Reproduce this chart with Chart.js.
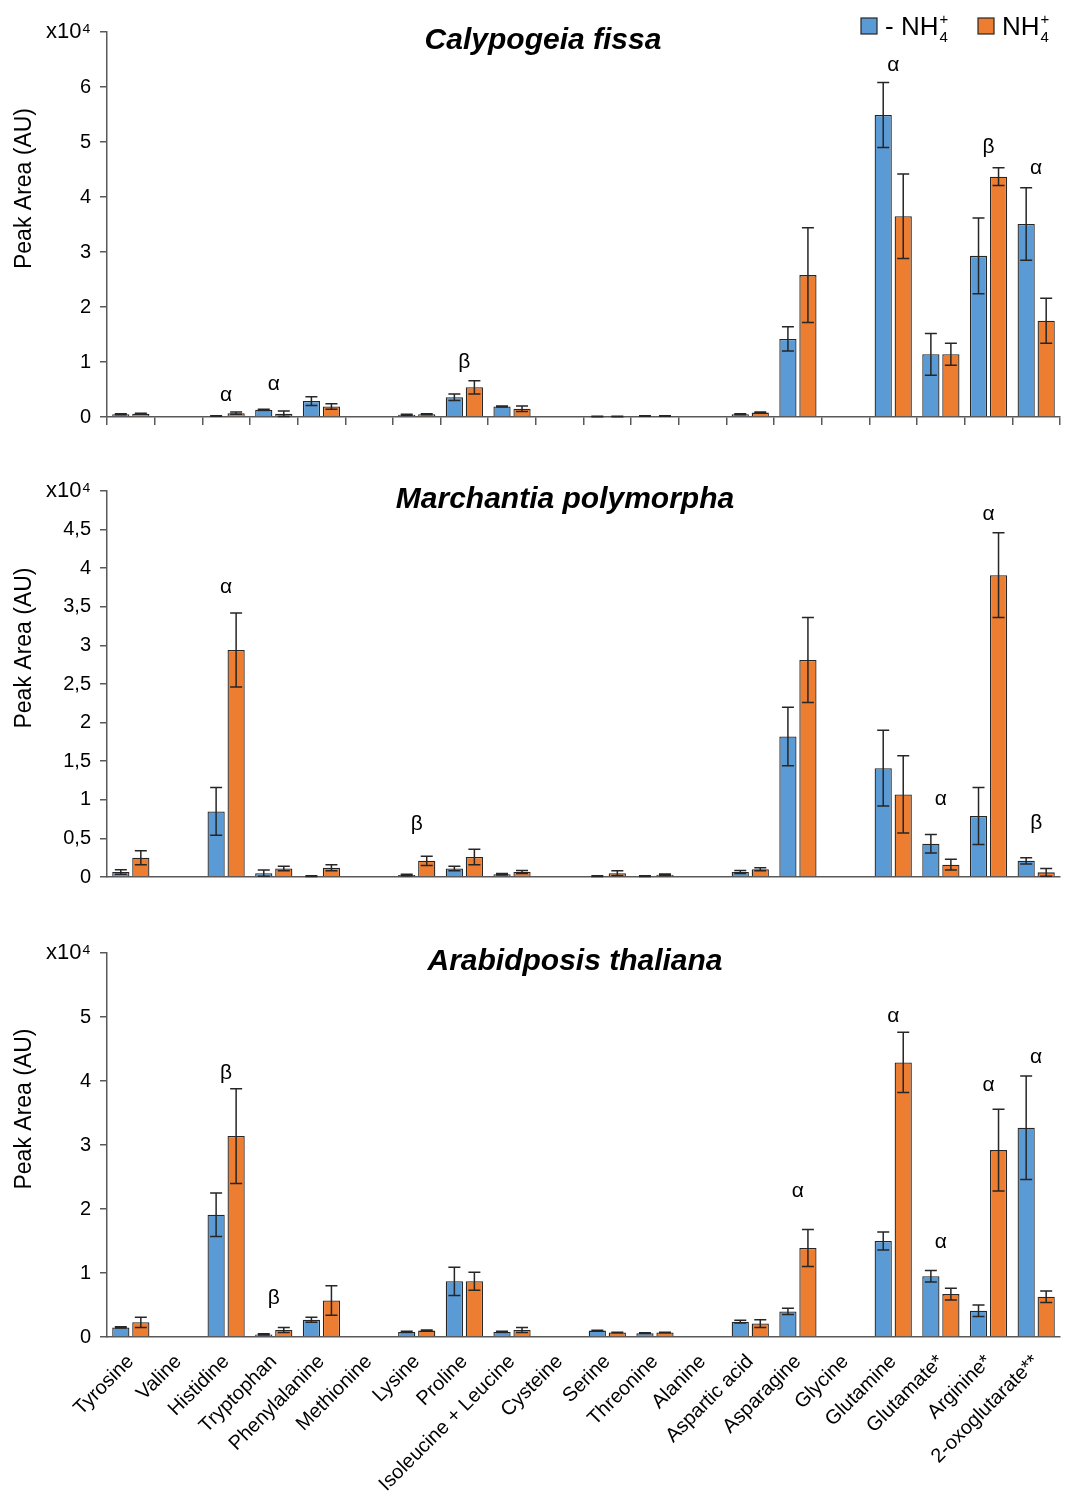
<!DOCTYPE html>
<html>
<head>
<meta charset="utf-8">
<script src="https://cdn.jsdelivr.net/npm/chart.js@4.4.1/dist/chart.umd.min.js"></script>
<style>
  body { margin: 0; background: #fff; width: 1070px; height: 1505px; position: relative; overflow: hidden; }
  canvas { position: absolute; left: 0; }
</style>
</head>
<body>
<canvas id="cf" width="1070" height="440" style="top:0px"></canvas>
<canvas id="mp" width="1070" height="440" style="top:458px"></canvas>
<canvas id="at" width="1070" height="595" style="top:910px"></canvas>

<script>
// categories (same for all three panels)
const aminoAcids = ['Tyrosine', 'Valine', 'Histidine', 'Tryptophan', 'Phenylalanine', 'Methionine',
    'Lysine', 'Proline', 'Isoleucine + Leucine', 'Cysteine', 'Serine', 'Threonine', 'Alanine',
    'Aspartic acid', 'Asparagine', 'Glycine', 'Glutamine', 'Glutamate*', 'Arginine*', '2-oxoglutarate**'];

// Calypogeia fissa (x10^4)
const cfMinus    = [0.05, null, 0.02, 0.13, 0.29, null, 0.04, 0.36, 0.19, null, 0.01, 0.02, null, 0.05, 1.42, null, 5.49, 1.14, 2.93, 3.51];
const cfMinusErr = [0.01, null, 0.005, 0.01, 0.08, null, 0.01, 0.06, 0.01, null, 0.005, 0.005, null, 0.01, 0.22, null, 0.59, 0.38, 0.69, 0.66];
const cfPlus     = [0.06, null, 0.07, 0.06, 0.19, null, 0.05, 0.54, 0.15, null, 0.01, 0.02, null, 0.08, 2.58, null, 3.65, 1.14, 4.37, 1.75];
const cfPlusErr  = [0.01, null, 0.02, 0.05, 0.05, null, 0.01, 0.12, 0.05, null, 0.005, 0.005, null, 0.01, 0.86, null, 0.77, 0.20, 0.16, 0.41];
const cfSig      = [null, null, 'α', 'α', null, null, null, 'β', null, null, null, null, null, null, null, null, 'α', null, 'β', 'α'];
const cfSigLevel = [null, null, 0.40, 0.60, null, null, null, 1.0, null, null, null, null, null, null, null, null, 6.4, null, 4.9, 4.53];
const cfTicks    = ['0', '1', '2', '3', '4', '5', '6', 'x10⁴'];

// Marchantia polymorpha
const mpMinus    = [0.065, null, 0.85, 0.05, 0.01, null, 0.025, 0.11, 0.035, null, 0.01, 0.01, null, 0.065, 1.82, null, 1.41, 0.43, 0.79, 0.21];
const mpMinusErr = [0.03, null, 0.31, 0.04, 0.005, null, 0.01, 0.03, 0.01, null, 0.005, 0.005, null, 0.02, 0.38, null, 0.49, 0.12, 0.37, 0.04];
const mpPlus     = [0.25, null, 2.94, 0.11, 0.12, null, 0.21, 0.26, 0.065, null, 0.05, 0.03, null, 0.10, 2.81, null, 1.07, 0.16, 3.91, 0.06];
const mpPlusErr  = [0.09, null, 0.48, 0.03, 0.04, null, 0.06, 0.10, 0.02, null, 0.03, 0.01, null, 0.02, 0.55, null, 0.50, 0.07, 0.55, 0.05];
const mpSig      = [null, null, 'α', null, null, null, 'β', null, null, null, null, null, null, null, null, null, null, 'α', 'α', 'β'];
const mpSigLevel = [null, null, 3.75, null, null, null, 0.69, null, null, null, null, null, null, null, null, null, null, 1.01, 4.7, 0.70];
const mpTicks    = ['0', '0,5', '1', '1,5', '2', '2,5', '3', '3,5', '4', '4,5', 'x10⁴'];

// Arabidopsis thaliana
const atMinus    = [0.15, null, 1.91, 0.04, 0.27, null, 0.08, 0.87, 0.08, null, 0.10, 0.06, null, 0.24, 0.40, null, 1.50, 0.95, 0.41, 3.27];
const atMinusErr = [0.01, null, 0.34, 0.01, 0.04, null, 0.01, 0.22, 0.01, null, 0.005, 0.005, null, 0.02, 0.05, null, 0.14, 0.09, 0.09, 0.81];
const atPlus     = [0.23, null, 3.14, 0.11, 0.57, null, 0.10, 0.87, 0.11, null, 0.07, 0.07, null, 0.21, 1.39, null, 4.29, 0.67, 2.92, 0.63];
const atPlusErr  = [0.08, null, 0.74, 0.04, 0.23, null, 0.01, 0.14, 0.04, null, 0.005, 0.005, null, 0.06, 0.29, null, 0.47, 0.09, 0.64, 0.09];
const atSig      = [null, null, 'β', 'β', null, null, null, null, null, null, null, null, null, null, 'α', null, 'α', 'α', 'α', 'α'];
const atSigLevel = [null, null, 4.12, 0.61, null, null, null, null, null, null, null, null, null, null, 2.28, null, 5.01, 1.48, 3.93, 4.37];
const atTicks    = ['0', '1', '2', '3', '4', '5', 'x10⁴'];

const BLUE = '#5b9bd5';
const ORANGE = '#ed7d31';
const AXIS = '#595959';
const FONT = "'Liberation Sans', Arial, sans-serif";

Chart.defaults.font.family = FONT;
Chart.defaults.color = '#000';

// error bars, significance letters, titles, y title, legend
const extras = {
    id: 'extras',
    afterDatasetsDraw(chart, args, opts) {
        const ctx = chart.ctx;
        const ys = chart.scales.y;
        const xs = chart.scales.x;
        const area = chart.chartArea;

        ctx.save();
        ctx.strokeStyle = '#262626';
        ctx.lineWidth = 1.5;
        chart.data.datasets.forEach((ds, i) => {
            const meta = chart.getDatasetMeta(i);
            meta.data.forEach((bar, j) => {
                const v = ds.data[j];
                const e = ds.errors[j];
                if (v == null || e == null) return;
                const top = ys.getPixelForValue(v + e);
                const bot = ys.getPixelForValue(Math.max(v - e, 0));
                const cap = 6;
                ctx.beginPath();
                ctx.moveTo(bar.x, top);
                ctx.lineTo(bar.x, bot);
                ctx.moveTo(bar.x - cap, top);
                ctx.lineTo(bar.x + cap, top);
                ctx.moveTo(bar.x - cap, bot);
                ctx.lineTo(bar.x + cap, bot);
                ctx.stroke();
            });
        });

        // significance letters
        ctx.fillStyle = '#000';
        ctx.font = '21px ' + FONT;
        ctx.textAlign = 'center';
        ctx.textBaseline = 'middle';
        opts.sig.forEach((s, j) => {
            if (!s) return;
            ctx.fillText(s, xs.getPixelForValue(j), ys.getPixelForValue(opts.sigLevel[j]));
        });

        // panel title
        ctx.font = 'italic bold 30px ' + FONT;
        ctx.fillText(opts.title, opts.titleX, area.top + 9);

        // y axis title
        ctx.save();
        ctx.translate(25, (area.top + area.bottom) / 2 - 36);
        ctx.rotate(-Math.PI / 2);
        ctx.font = '23px ' + FONT;
        ctx.fillText('Peak Area (AU)', 0, 0);
        ctx.restore();

        if (opts.legend) {
            drawLegendItem(ctx, 861, BLUE, '- NH');
            drawLegendItem(ctx, 978, ORANGE, 'NH');
        }
        ctx.restore();
    }
};

function drawLegendItem(ctx, x, color, text) {
    ctx.fillStyle = color;
    ctx.fillRect(x, 18, 16, 16);
    ctx.strokeStyle = '#262626';
    ctx.lineWidth = 1.2;
    ctx.strokeRect(x, 18, 16, 16);
    ctx.fillStyle = '#000';
    ctx.textAlign = 'left';
    ctx.textBaseline = 'alphabetic';
    ctx.font = '26px ' + FONT;
    const tx = x + 24;
    ctx.fillText(text, tx, 35);
    const w = ctx.measureText(text).width;
    ctx.font = '15px ' + FONT;
    ctx.fillText('4', tx + w + 1, 42);
    ctx.fillText('+', tx + w + 1, 24);
}

function makeChart(id, minus, minusErr, plus, plusErr, cfg) {
    const labels = cfg.ticks;
    return new Chart(document.getElementById(id), {
        type: 'bar',
        data: {
            labels: aminoAcids,
            datasets: [
                { label: '- NH4+', data: minus, errors: minusErr, backgroundColor: BLUE,
                  borderColor: '#262626', borderWidth: 1.3 },
                { label: 'NH4+', data: plus, errors: plusErr, backgroundColor: ORANGE,
                  borderColor: '#262626', borderWidth: 1.3 }
            ]
        },
        options: {
            responsive: false,
            animation: false,
            devicePixelRatio: 1,
            categoryPercentage: 0.84,
            barPercentage: 0.86,
            layout: { padding: { top: cfg.padTop, right: 10, left: 0, bottom: 0 } },
            plugins: {
                legend: { display: false },
                tooltip: { enabled: false },
                extras: { sig: cfg.sig, sigLevel: cfg.sigLevel, title: cfg.title,
                          titleX: cfg.titleX, legend: cfg.legend }
            },
            scales: {
                x: {
                    afterFit: (axis) => { axis.height = cfg.xHeight; },
                    border: { display: true, color: AXIS, width: 1.5 },
                    grid: { display: cfg.xTicks, drawOnChartArea: false, drawTicks: true,
                            tickLength: 8, color: AXIS, lineWidth: 1.5 },
                    ticks: {
                        display: cfg.xLabels,
                        autoSkip: false,
                        maxRotation: 45,
                        minRotation: 45,
                        padding: 5,
                        font: { size: 20 },
                        color: '#000'
                    }
                },
                y: {
                    min: 0,
                    max: cfg.max,
                    afterFit: (axis) => { axis.width = 107; },
                    border: { display: true, color: AXIS, width: 1.5 },
                    grid: { display: true, drawOnChartArea: false, drawTicks: true,
                            tickLength: 7, color: AXIS, lineWidth: 1.5 },
                    ticks: {
                        stepSize: cfg.step,
                        padding: 9,
                        font: (c) => ({ size: c.index === labels.length - 1 ? 22 : 20 }),
                        color: '#000',
                        callback: (v, i) => labels[i]
                    }
                }
            }
        },
        plugins: [extras]
    });
}

makeChart('cf', cfMinus, cfMinusErr, cfPlus, cfPlusErr, {
    ticks: cfTicks, max: 7, step: 1, padTop: 32, xHeight: 23, xTicks: true, xLabels: false,
    sig: cfSig, sigLevel: cfSigLevel, title: 'Calypogeia fissa', titleX: 543, legend: true
});
makeChart('mp', mpMinus, mpMinusErr, mpPlus, mpPlusErr, {
    ticks: mpTicks, max: 5, step: 0.5, padTop: 33, xHeight: 14, xTicks: false, xLabels: false,
    sig: mpSig, sigLevel: mpSigLevel, title: 'Marchantia polymorpha', titleX: 565, legend: false
});
makeChart('at', atMinus, atMinusErr, atPlus, atPlusErr, {
    ticks: atTicks, max: 6, step: 1, padTop: 43, xHeight: 168, xTicks: false, xLabels: true,
    sig: atSig, sigLevel: atSigLevel, title: 'Arabidposis thaliana', titleX: 575, legend: false
});
</script>
</body>
</html>
